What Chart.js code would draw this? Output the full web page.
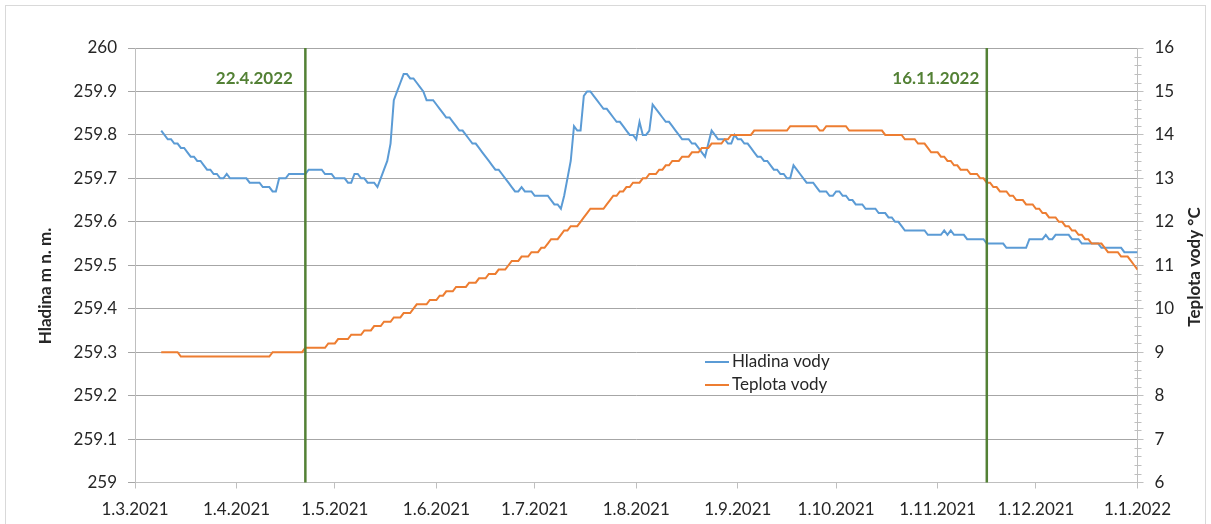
<!DOCTYPE html>
<html>
<head>
<meta charset="utf-8">
<script src="https://cdn.jsdelivr.net/npm/chart.js@4.4.1/dist/chart.umd.min.js"></script>
<style>
  html, body { margin: 0; padding: 0; background: #ffffff; }
  #wrap { position: relative; width: 1211px; height: 524px; }
  canvas { display: block; }
</style>
</head>
<body>
<div id="wrap"><canvas id="chart" width="1211" height="524"></canvas></div>
<script>
// Day numbers count from 1.3.2021 (day 0).
const monthDays = [0, 31, 61, 92, 122, 153, 184, 214, 245, 275, 306];
const monthLabels = ['1.3.2021', '1.4.2021', '1.5.2021', '1.6.2021', '1.7.2021', '1.8.2021',
                     '1.9.2021', '1.10.2021', '1.11.2021', '1.12.2021', '1.1.2022'];

const levelTicks = [259, 259.1, 259.2, 259.3, 259.4, 259.5, 259.6, 259.7, 259.8, 259.9, 260];
const levelTickLabels = ['259', '259.1', '259.2', '259.3', '259.4', '259.5', '259.6', '259.7', '259.8', '259.9', '260'];
const tempTicks = [6, 7, 8, 9, 10, 11, 12, 13, 14, 15, 16];
const tempMinorStep = 0.2;

const seriesNames = ['Hladina vody', 'Teplota vody'];
const axisTitles = ['Hladina m n. m.', 'Teplota vody °C'];

// Water level [day, m a.s.l.]
const levelPoints = [
  [8, 259.81], [10, 259.79], [11, 259.79], [12, 259.78], [13, 259.78], [14, 259.77], [15, 259.77],
  [16, 259.76], [17, 259.75], [18, 259.75], [19, 259.74], [20, 259.74], [21, 259.73], [22, 259.72],
  [23, 259.72], [24, 259.71], [25, 259.71], [26, 259.70], [27, 259.70], [28, 259.71], [29, 259.70],
  [34, 259.70], [35, 259.69], [38, 259.69], [39, 259.68], [41, 259.68], [42, 259.67], [43, 259.67],
  [44, 259.70], [46, 259.70], [47, 259.71], [52, 259.71], [53, 259.72], [57, 259.72], [58, 259.71],
  [60, 259.71], [61, 259.70], [64, 259.70], [65, 259.69], [66, 259.69], [67, 259.71], [68, 259.71],
  [69, 259.70], [70, 259.70], [71, 259.69], [73, 259.69], [74, 259.68], [75, 259.70], [76, 259.72],
  [77, 259.74], [78, 259.78], [79, 259.88], [80, 259.90], [81, 259.92], [82, 259.94], [83, 259.94],
  [84, 259.93], [85, 259.93], [86, 259.92], [87, 259.91], [88, 259.90], [89, 259.88], [91, 259.88],
  [92, 259.87], [93, 259.86], [94, 259.85], [95, 259.84], [96, 259.84], [97, 259.83], [98, 259.82],
  [99, 259.81], [100, 259.81], [101, 259.80], [102, 259.79], [103, 259.78], [104, 259.78], [105, 259.77],
  [106, 259.76], [107, 259.75], [108, 259.74], [109, 259.73], [110, 259.72], [111, 259.72], [112, 259.71],
  [113, 259.70], [114, 259.69], [115, 259.68], [116, 259.67], [117, 259.67], [118, 259.68], [119, 259.67],
  [121, 259.67], [122, 259.66], [126, 259.66], [127, 259.65], [128, 259.64], [129, 259.64], [130, 259.63],
  [131, 259.66], [132, 259.70], [133, 259.74], [134, 259.82], [135, 259.81], [136, 259.81], [137, 259.89],
  [138, 259.90], [139, 259.90], [140, 259.89], [141, 259.88], [142, 259.87], [143, 259.86], [144, 259.86],
  [145, 259.85], [146, 259.84], [147, 259.83], [148, 259.83], [149, 259.82], [150, 259.81], [151, 259.80],
  [152, 259.80], [153, 259.79], [154, 259.83], [155, 259.80], [156, 259.80], [157, 259.81], [158, 259.87],
  [159, 259.86], [160, 259.85], [161, 259.84], [162, 259.83], [163, 259.83], [164, 259.82], [165, 259.81],
  [166, 259.80], [167, 259.79], [169, 259.79], [170, 259.78], [171, 259.78], [172, 259.77], [173, 259.76],
  [174, 259.75], [176, 259.81], [177, 259.80], [178, 259.79], [180, 259.79], [181, 259.78], [182, 259.78],
  [183, 259.80], [184, 259.79], [185, 259.79], [186, 259.78], [187, 259.78], [188, 259.77], [189, 259.76],
  [190, 259.75], [191, 259.75], [192, 259.74], [193, 259.74], [194, 259.73], [195, 259.72], [196, 259.72],
  [197, 259.71], [198, 259.71], [199, 259.70], [200, 259.70], [201, 259.73], [202, 259.72], [203, 259.71],
  [204, 259.70], [205, 259.69], [207, 259.69], [208, 259.68], [209, 259.67], [211, 259.67], [212, 259.66],
  [213, 259.66], [214, 259.67], [215, 259.67], [216, 259.66], [217, 259.66], [218, 259.65], [219, 259.65],
  [220, 259.64], [222, 259.64], [223, 259.63], [226, 259.63], [227, 259.62], [229, 259.62], [230, 259.61],
  [231, 259.61], [232, 259.60], [233, 259.60], [234, 259.59], [235, 259.58], [241, 259.58], [242, 259.57],
  [246, 259.57], [247, 259.58], [248, 259.57], [249, 259.58], [250, 259.57], [253, 259.57], [254, 259.56],
  [259, 259.56], [260, 259.55], [265, 259.55], [266, 259.54], [272, 259.54], [273, 259.56], [277, 259.56],
  [278, 259.57], [279, 259.56], [280, 259.56], [281, 259.57], [285, 259.57], [286, 259.56], [288, 259.56],
  [289, 259.55], [294, 259.55], [295, 259.54], [301, 259.54], [302, 259.53], [306, 259.53]
];

// Water temperature [day, °C]
const tempPoints = [
  [8, 9.0], [13, 9.0], [14, 8.9], [41, 8.9], [42, 9.0], [51, 9.0], [52, 9.1], [58, 9.1], [59, 9.2],
  [61, 9.2], [62, 9.3], [65, 9.3], [66, 9.4], [69, 9.4], [70, 9.5], [72, 9.5], [73, 9.6], [75, 9.6],
  [76, 9.7], [78, 9.7], [79, 9.8], [81, 9.8], [82, 9.9], [84, 9.9], [85, 10.0], [86, 10.1], [89, 10.1],
  [90, 10.2], [92, 10.2], [93, 10.3], [94, 10.3], [95, 10.4], [97, 10.4], [98, 10.5], [101, 10.5],
  [102, 10.6], [104, 10.6], [105, 10.7], [107, 10.7], [108, 10.8], [110, 10.8], [111, 10.9], [113, 10.9],
  [114, 11.0], [115, 11.1], [117, 11.1], [118, 11.2], [120, 11.2], [121, 11.3], [123, 11.3], [124, 11.4],
  [125, 11.4], [126, 11.5], [127, 11.6], [129, 11.6], [130, 11.7], [131, 11.8], [132, 11.8], [133, 11.9],
  [135, 11.9], [136, 12.0], [137, 12.1], [138, 12.2], [139, 12.3], [143, 12.3], [144, 12.4], [145, 12.5],
  [146, 12.6], [147, 12.6], [148, 12.7], [149, 12.7], [150, 12.8], [151, 12.8], [152, 12.9], [154, 12.9],
  [155, 13.0], [156, 13.0], [157, 13.1], [159, 13.1], [160, 13.2], [161, 13.2], [162, 13.3], [163, 13.3],
  [164, 13.4], [166, 13.4], [167, 13.5], [169, 13.5], [170, 13.6], [172, 13.6], [173, 13.7], [175, 13.7],
  [176, 13.8], [179, 13.8], [180, 13.9], [181, 13.9], [182, 14.0], [188, 14.0], [189, 14.1], [199, 14.1],
  [200, 14.2], [208, 14.2], [209, 14.1], [210, 14.1], [211, 14.2], [217, 14.2], [218, 14.1], [228, 14.1],
  [229, 14.0], [234, 14.0], [235, 13.9], [238, 13.9], [239, 13.8], [241, 13.8], [242, 13.7], [243, 13.6],
  [245, 13.6], [246, 13.5], [247, 13.5], [248, 13.4], [249, 13.4], [250, 13.3], [251, 13.3], [252, 13.2],
  [254, 13.2], [255, 13.1], [257, 13.1], [258, 13.0], [259, 13.0], [260, 12.9], [261, 12.9], [262, 12.8],
  [263, 12.8], [264, 12.7], [266, 12.7], [267, 12.6], [268, 12.6], [269, 12.5], [271, 12.5], [272, 12.4],
  [274, 12.4], [275, 12.3], [276, 12.3], [277, 12.2], [278, 12.2], [279, 12.1], [281, 12.1], [282, 12.0],
  [283, 12.0], [284, 11.9], [285, 11.9], [286, 11.8], [287, 11.8], [288, 11.7], [289, 11.7], [290, 11.6],
  [291, 11.6], [292, 11.5], [295, 11.5], [296, 11.4], [297, 11.3], [300, 11.3], [301, 11.2], [303, 11.2],
  [304, 11.1], [305, 11.0], [306, 10.9]
];

// Vertical event markers
const markerDays = [52, 260];
const markerLabels = ['22.4.2022', '16.11.2022'];

const FONT = 'Lato, "Open Sans", "DejaVu Sans", sans-serif';
const TEXT = '#262626';
const GRID = '#a6a6a6';
const AXIS = '#bfbfbf';
const BLUE = '#5b9bd5';
const ORANGE = '#ed7d31';
const GREEN = '#538135';

const toXY = pts => pts.map(p => ({ x: p[0], y: p[1] }));

const decorations = {
  id: 'decorations',
  afterDatasetsDraw(chart) {
    const { ctx, chartArea: a, scales } = chart;
    ctx.save();
    markerDays.forEach((d, i) => {
      const x = scales.x.getPixelForValue(d);
      ctx.strokeStyle = GREEN;
      ctx.lineWidth = 2.5;
      ctx.beginPath();
      ctx.moveTo(x, a.top);
      ctx.lineTo(x, a.bottom);
      ctx.stroke();
      ctx.fillStyle = GREEN;
      ctx.font = 'bold 17px ' + FONT;
      ctx.textAlign = 'center';
      ctx.textBaseline = 'middle';
      ctx.fillText(markerLabels[i], x - 51, a.top + 31);
    });
    ctx.restore();
  },
  afterDraw(chart) {
    const { ctx, chartArea: a, scales } = chart;
    ctx.save();

    // minor ticks on the temperature axis
    const yT = scales.yT;
    ctx.strokeStyle = AXIS;
    ctx.lineWidth = 1;
    const first = tempTicks[0], last = tempTicks[tempTicks.length - 1];
    const steps = Math.round((last - first) / tempMinorStep);
    for (let k = 1; k < steps; k++) {
      if (k % 5 === 0) continue;
      const y = Math.round(yT.getPixelForValue(first + k * tempMinorStep)) + 0.5;
      ctx.beginPath();
      ctx.moveTo(a.right - 3, y);
      ctx.lineTo(a.right + 4, y);
      ctx.stroke();
    }

    // axis titles
    ctx.fillStyle = TEXT;
    ctx.font = 'bold 17px ' + FONT;
    ctx.textAlign = 'center';
    ctx.textBaseline = 'middle';
    [[46, 286, axisTitles[0]], [1195, 267, axisTitles[1]]].forEach(([x, y, t]) => {
      ctx.save();
      ctx.translate(x, y);
      ctx.rotate(-Math.PI / 2);
      ctx.fillText(t, 0, 0);
      ctx.restore();
    });

    // legend
    ctx.font = '17px ' + FONT;
    ctx.textAlign = 'left';
    chart.data.datasets.forEach((ds, i) => {
      const y = 362 + i * 23;
      ctx.strokeStyle = ds.borderColor;
      ctx.lineWidth = 2;
      ctx.beginPath();
      ctx.moveTo(705, y);
      ctx.lineTo(729, y);
      ctx.stroke();
      ctx.fillStyle = TEXT;
      ctx.fillText(ds.label, 732, y);
    });

    // chart frame
    ctx.strokeStyle = '#d9d9d9';
    ctx.lineWidth = 1;
    ctx.strokeRect(5.5, 5.5, 1200, 560);
    ctx.restore();
  }
};

new Chart(document.getElementById('chart'), {
  type: 'line',
  data: {
    datasets: [
      { label: seriesNames[0], data: toXY(levelPoints), yAxisID: 'y', borderColor: BLUE,
        borderWidth: 2, pointRadius: 0, tension: 0, order: 1 },
      { label: seriesNames[1], data: toXY(tempPoints), yAxisID: 'yT', borderColor: ORANGE,
        borderWidth: 2, pointRadius: 0, tension: 0, order: 0 }
    ]
  },
  options: {
    responsive: false,
    animation: false,
    devicePixelRatio: 1,
    layout: { padding: { top: 48, left: 0, right: 0, bottom: 0 } },
    plugins: { legend: { display: false }, tooltip: { enabled: false } },
    scales: {
      x: {
        type: 'linear', position: 'bottom', min: 0, max: 306,
        afterBuildTicks: s => { s.ticks = monthDays.map(v => ({ value: v })); },
        afterFit: s => { s.height = 41.5; },
        ticks: { callback: (v, i) => monthLabels[i], autoSkip: false, maxRotation: 0,
                 font: { family: FONT, size: 17 }, color: TEXT, padding: 11 },
        grid: { drawOnChartArea: false, drawTicks: true, tickLength: 6, color: AXIS },
        border: { color: AXIS }
      },
      y: {
        type: 'linear', position: 'left', min: 259, max: 260,
        afterBuildTicks: s => { s.ticks = levelTicks.map(v => ({ value: v })); },
        afterFit: s => { s.width = 135; },
        ticks: { callback: (v, i) => levelTickLabels[i], font: { family: FONT, size: 17 },
                 color: TEXT, padding: 11 },
        grid: { color: GRID, tickLength: 7 },
        border: { color: AXIS }
      },
      yT: {
        type: 'linear', position: 'right', min: 6, max: 16,
        afterBuildTicks: s => { s.ticks = tempTicks.map(v => ({ value: v })); },
        afterFit: s => { s.width = 1211 - 1137.5; },
        ticks: { callback: (v, i) => String(tempTicks[i]), font: { family: FONT, size: 17 },
                 color: TEXT, padding: 11 },
        grid: { drawOnChartArea: false, tickLength: 6, color: AXIS },
        border: { color: AXIS }
      }
    }
  },
  plugins: [decorations]
});
</script>
</body>
</html>
